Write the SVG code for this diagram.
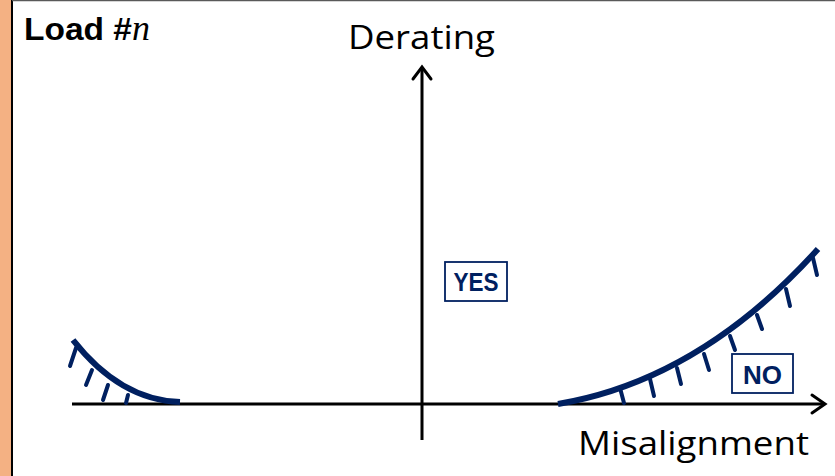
<svg xmlns="http://www.w3.org/2000/svg" width="835" height="476" viewBox="0 0 835 476">
<style>
.axis{stroke:#000;stroke-width:3;fill:none}
.head{stroke:#000;stroke-width:3;fill:none;stroke-linecap:round;stroke-linejoin:miter}
.curve{stroke:#002060;stroke-width:6;fill:none}
.tick{stroke:#002060;stroke-width:4;fill:none;stroke-linecap:round}
.box{fill:#fff;stroke:#002060;stroke-width:1.8}
.lbl{font-family:"Liberation Sans",Arial,sans-serif;font-weight:bold;fill:#002060;font-size:26px;text-anchor:middle}
.ax{font-family:"Open Sans","Liberation Sans",sans-serif;font-size:33px;fill:#000}
</style>
<rect x="0" y="0" width="835" height="476" fill="#fff"/>
<rect x="0" y="0" width="11" height="476" fill="#F4B183"/>
<line x1="12" y1="0" x2="12" y2="476" stroke="#000" stroke-width="2"/>
<line x1="12" y1="0.5" x2="835" y2="0.5" stroke="#595959" stroke-width="1.5"/>
<g id="title"><text x="24" y="40" font-family="Liberation Sans,Arial,sans-serif" font-weight="bold" font-size="32" fill="#000"><tspan textLength="108" lengthAdjust="spacingAndGlyphs">Load #</tspan><tspan font-family="Liberation Serif,serif" font-style="italic" font-weight="normal" font-size="36">n</tspan></text></g>
<g id="connectors">
<line class="axis" x1="72" y1="404" x2="824" y2="404"/>
<polyline class="head" points="812,395 825,404 812,413"/>
<line class="axis" x1="422" y1="440" x2="422" y2="68"/>
<polyline class="head" points="413,79 422,67 431,79"/>
</g>
<g id="derating-label"><text class="ax" x="348" y="49" textLength="147" lengthAdjust="spacingAndGlyphs">Derating</text></g>
<g id="misalignment-label"><text class="ax" x="578" y="455" textLength="231" lengthAdjust="spacingAndGlyphs">Misalignment</text></g>
<g id="left-curve">
<path class="curve" d="M73,340 Q120,400 180,402"/>
<line class="tick" x1="76" y1="348" x2="70" y2="366"/>
<line class="tick" x1="92" y1="370" x2="86" y2="385"/>
<line class="tick" x1="108" y1="385" x2="103" y2="400"/>
<line class="tick" x1="128" y1="395" x2="126" y2="403"/>
</g>
<g id="right-curve">
<path class="curve" d="M558,404 Q700,380 818,249"/>
<line class="tick" x1="620" y1="388" x2="624" y2="403"/>
<line class="tick" x1="650" y1="379" x2="654" y2="396"/>
<line class="tick" x1="677" y1="368" x2="681" y2="384"/>
<line class="tick" x1="704" y1="354" x2="709" y2="370"/>
<line class="tick" x1="730" y1="336" x2="735" y2="350"/>
<line class="tick" x1="757" y1="315" x2="762" y2="329"/>
<line class="tick" x1="786" y1="289" x2="790" y2="306"/>
<line class="tick" x1="813" y1="258" x2="817" y2="275"/>
</g>
<g id="yes"><rect class="box" x="445" y="262" width="62" height="39"/><text class="lbl" x="476" y="291" textLength="45" lengthAdjust="spacingAndGlyphs">YES</text></g>
<g id="no"><rect class="box" x="732" y="354" width="61" height="39"/><text class="lbl" x="762.5" y="384" textLength="39" lengthAdjust="spacingAndGlyphs">NO</text></g>
</svg>
